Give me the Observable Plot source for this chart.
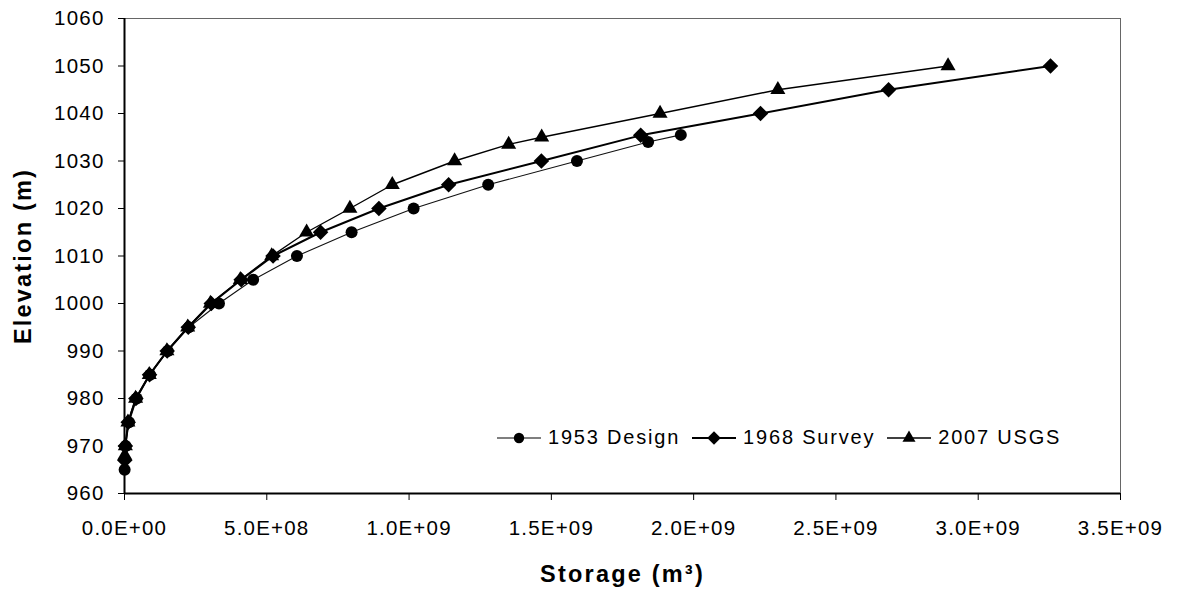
<!DOCTYPE html>
<html>
<head>
<meta charset="utf-8">
<script src="https://cdn.jsdelivr.net/npm/d3@7"></script>
<script src="https://cdn.jsdelivr.net/npm/@observablehq/plot@0.6"></script>
<style>
  html, body { margin: 0; padding: 0; background: #fff; }
  #wrap { position: relative; width: 1181px; height: 597px; font-family: "Liberation Sans", Arial, sans-serif; }
  #legend { position: absolute; left: 497px; top: 426px; display: flex; align-items: center; font-size: 20px; letter-spacing: 1.8px; color: #000; white-space: nowrap; }
  #legend .item { display: flex; align-items: center; margin-right: 12px; }
  #legend svg { margin-right: 7px; }
</style>
</head>
<body>
<div id="wrap"><div id="legend"></div></div>
<script>
// ---- data (storage in m^3, elevation in m) ----
const seriesNames = ["1953 Design", "1968 Survey", "2007 USGS"];

const designElev = [965, 970, 975, 980, 985, 990, 995, 1000, 1005, 1010, 1015, 1020, 1025, 1030, 1034, 1035.5];
const designStorage = [0.0005e9, 0.004e9, 0.016e9, 0.043e9, 0.090e9, 0.152e9, 0.226e9, 0.332e9, 0.452e9, 0.606e9, 0.798e9, 1.016e9, 1.278e9, 1.590e9, 1.840e9, 1.955e9];

const surveyElev = [967, 970, 975, 980, 985, 990, 995, 1000, 1005, 1010, 1015, 1020, 1025, 1030, 1035.4, 1040, 1045, 1050];
const surveyStorage = [0.001e9, 0.003e9, 0.013e9, 0.040e9, 0.088e9, 0.150e9, 0.224e9, 0.305e9, 0.410e9, 0.522e9, 0.689e9, 0.894e9, 1.139e9, 1.465e9, 1.814e9, 2.235e9, 2.685e9, 3.254e9];

const usgsElev = [968, 970, 975, 980, 985, 990, 995, 1000, 1005, 1010, 1015, 1020, 1025, 1030, 1033.5, 1035, 1040, 1045, 1050];
const usgsStorage = [0.001e9, 0.003e9, 0.012e9, 0.039e9, 0.087e9, 0.149e9, 0.222e9, 0.302e9, 0.407e9, 0.517e9, 0.640e9, 0.792e9, 0.941e9, 1.160e9, 1.350e9, 1.466e9, 1.882e9, 2.296e9, 2.894e9];

const xTicks = [0, 0.5e9, 1.0e9, 1.5e9, 2.0e9, 2.5e9, 3.0e9, 3.5e9];
const xTickLabels = ["0.0E+00", "5.0E+08", "1.0E+09", "1.5E+09", "2.0E+09", "2.5E+09", "3.0E+09", "3.5E+09"];
const yTicks = [960, 970, 980, 990, 1000, 1010, 1020, 1030, 1040, 1050, 1060];

const xLabel = "Storage (m³)";
const yLabel = "Elevation (m)";

// ---- build tables ----
const design = designElev.map((e, i) => ({x: designStorage[i], y: e}));
const survey = surveyElev.map((e, i) => ({x: surveyStorage[i], y: e}));
const usgs = usgsElev.map((e, i) => ({x: usgsStorage[i], y: e}));

const styles = [
  {symbol: "circle", r: 6, sw: 1.1},
  {symbol: "diamond2", r: 7, sw: 2},
  {symbol: "triangle", r: 5.6, sw: 1.4}
];

const chart = Plot.plot({
  width: 1181,
  height: 597,
  marginLeft: 124,
  marginRight: 61,
  marginTop: 18,
  marginBottom: 104,
  style: {fontFamily: "'Liberation Sans', Arial, sans-serif", fontSize: "20px", color: "#000", background: "#fff", letterSpacing: "1.2px"},
  x: {domain: [0, 3.5e9]},
  y: {domain: [960, 1060]},
  marks: [
    Plot.frame({stroke: "#666", strokeWidth: 1}),
    Plot.ruleX([0], {stroke: "#000", strokeWidth: 2}),
    Plot.ruleY([960], {stroke: "#000", strokeWidth: 2}),
    Plot.axisX({ticks: xTicks, tickFormat: (d, i) => xTickLabels[i], tickSize: 7, tickPadding: 20, fontSize: 20.5, label: xLabel, labelAnchor: "center", labelOffset: 88, labelArrow: "none", stroke: "#000"}),
    Plot.axisY({ticks: yTicks, tickFormat: d => String(d), tickSize: 6, tickPadding: 14, fontSize: 20.5, label: yLabel, labelAnchor: "center", labelOffset: 110, labelArrow: "none"}),
    Plot.line(design, {x: "x", y: "y", stroke: "#111", strokeWidth: styles[0].sw}),
    Plot.line(survey, {x: "x", y: "y", stroke: "#000", strokeWidth: styles[1].sw}),
    Plot.line(usgs, {x: "x", y: "y", stroke: "#000", strokeWidth: styles[2].sw}),
    Plot.dot(design, {x: "x", y: "y", symbol: styles[0].symbol, r: styles[0].r, fill: "#000", stroke: "none"}),
    Plot.dot(survey, {x: "x", y: "y", symbol: styles[1].symbol, r: styles[1].r, fill: "#000", stroke: "none"}),
    Plot.dot(usgs, {x: "x", y: "y", symbol: styles[2].symbol, r: styles[2].r, fill: "#000", stroke: "none"})
  ]
});

// style axis titles bold
d3.select(chart).selectAll("text").each(function() {
  const t = d3.select(this).text();
  if (t.includes(xLabel) || t.includes(yLabel)) {
    d3.select(this).attr("font-weight", "bold").attr("font-size", "23.5px").attr("letter-spacing", "2.2px");
  }
});

document.getElementById("wrap").prepend(chart);

// legend
const legend = d3.select("#legend");
const symbolGens = [d3.symbolCircle, d3.symbolDiamond2, d3.symbolTriangle];
seriesNames.forEach((name, i) => {
  const item = legend.append("div").attr("class", "item");
  const s = item.append("svg").attr("width", 44).attr("height", 20);
  s.append("line").attr("x1", 0).attr("x2", 44).attr("y1", 10).attr("y2", 10).attr("stroke", "#000").attr("stroke-width", styles[i].sw);
  s.append("path").attr("transform", "translate(22,10)")
    .attr("d", d3.symbol(symbolGens[i], Math.PI * styles[i].r * styles[i].r * 0.75)()).attr("fill", "#000");
  item.append("span").text(name);
});
</script>
</body>
</html>
